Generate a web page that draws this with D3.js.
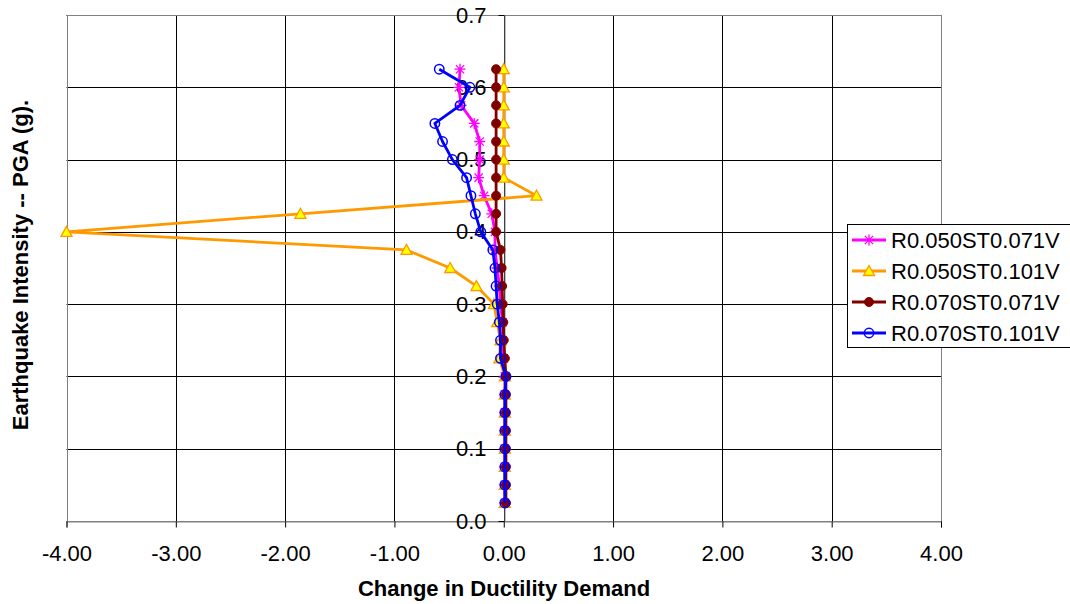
<!DOCTYPE html>
<html><head><meta charset="utf-8">
<script src="https://cdn.jsdelivr.net/npm/d3@7"></script>
<style>body{margin:0;background:#fff;} svg{display:block;}</style>
</head><body>
<svg id="chart" width="1070" height="604"></svg>
<script>
const pga = [0.025,0.05,0.075,0.1,0.125,0.15,0.175,0.2,0.225,0.25,0.275,0.3,0.325,0.35,0.375,0.4,0.425,0.45,0.475,0.5,0.525,0.55,0.575,0.6,0.625];
const magenta050_071 = [0.01,0.01,0.01,0.01,0.01,0.01,0.01,0.01,0.0,-0.01,-0.01,-0.03,-0.04,-0.06,-0.08,-0.08,-0.11,-0.18,-0.23,-0.22,-0.22,-0.27,-0.39,-0.41,-0.40];
const orange050_101 = [0.01,0.01,0.01,0.01,0.01,0.01,0.01,0.01,-0.04,-0.03,-0.06,-0.09,-0.25,-0.49,-0.89,-4.0,-1.86,0.30,0.0,0.0,0.0,0.0,0.0,0.0,0.0];
const maroon070_071 = [0.02,0.02,0.02,0.02,0.02,0.02,0.02,0.02,0.01,0.0,-0.005,-0.01,-0.015,-0.02,-0.03,-0.07,-0.07,-0.07,-0.07,-0.07,-0.07,-0.07,-0.07,-0.07,-0.07];
const blue070_101 = [0.01,0.01,0.01,0.01,0.01,0.01,0.01,0.02,-0.03,-0.03,-0.04,-0.06,-0.07,-0.08,-0.10,-0.21,-0.26,-0.30,-0.34,-0.47,-0.56,-0.63,-0.40,-0.31,-0.59];
const seriesNames = ["R0.050ST0.071V","R0.050ST0.101V","R0.070ST0.071V","R0.070ST0.101V"];
const xTicks = [-4,-3,-2,-1,0,1,2,3,4];
const yTicks = [0,0.1,0.2,0.3,0.4,0.5,0.6,0.7];

const series = [
  {name: seriesNames[0], vals: magenta050_071, color: "#FF00FF", marker: "star"},
  {name: seriesNames[1], vals: orange050_101, color: "#FF9900", marker: "tri"},
  {name: seriesNames[2], vals: maroon070_071, color: "#800000", marker: "dot"},
  {name: seriesNames[3], vals: blue070_101, color: "#0000FF", marker: "ring"}
];

const svg = d3.select("#chart");
const L = 66.5, R = 941, T = 15, B = 521;
const x = d3.scaleLinear().domain([-4,4]).range([L,R]);
const y = d3.scaleLinear().domain([0,0.7]).range([B,T]);
const font = "Arial, 'Liberation Sans', sans-serif";

// grid
const g = svg.append("g");
g.selectAll(".vg").data(xTicks).enter().append("line")
  .attr("x1", d=>Math.round(x(d))+0.5).attr("x2", d=>Math.round(x(d))+0.5)
  .attr("y1", T).attr("y2", B).attr("stroke","#000").attr("stroke-width",1);
g.selectAll(".hg").data(yTicks).enter().append("line")
  .attr("x1", L).attr("x2", R)
  .attr("y1", d=>Math.round(y(d))+0.5).attr("y2", d=>Math.round(y(d))+0.5)
  .attr("stroke","#000").attr("stroke-width",1);
// border
g.append("rect").attr("x",Math.round(L)+0.5).attr("y",T+0.5).attr("width",Math.round(R)-Math.round(L)).attr("height",B-T)
  .attr("fill","none").attr("stroke","#808080").attr("stroke-width",1);

// axes
const xAxis = svg.append("g").attr("transform",`translate(0,${Math.round(y(0))+0.5})`)
  .call(d3.axisBottom(x).tickValues(xTicks).tickFormat(d=>d.toFixed(2)).tickSize(6).tickPadding(18));
const yAxis = svg.append("g").attr("transform",`translate(${Math.round(x(0))+0.5},0)`)
  .call(d3.axisLeft(y).tickValues(yTicks).tickFormat(d=>d.toFixed(1)).tickSize(6).tickPadding(12));
[xAxis,yAxis].forEach(a=>{
  a.select(".domain").attr("stroke","#808080");
  a.selectAll(".tick line").attr("stroke","#000");
  a.selectAll("text").attr("font-family",font).attr("font-size",22).attr("fill","#000");
});

// lines
const line = d3.line().x(d=>x(d[0])).y(d=>y(d[1]));
function drawMarker(sel, m, color){
  if(m==="star"){
    const s=5.5;
    sel.append("path").attr("d",`M${-s},0H${s}M0,${-s}V${s}M${-s*0.75},${-s*0.75}L${s*0.75},${s*0.75}M${-s*0.75},${s*0.75}L${s*0.75},${-s*0.75}`)
      .attr("stroke",color).attr("stroke-width",1.3).attr("fill","none");
  } else if(m==="tri"){
    sel.append("path").attr("d","M0,-5.5L5.5,4.5L-5.5,4.5Z").attr("fill","#FFFF00").attr("stroke",color).attr("stroke-width",1.3);
  } else if(m==="dot"){
    sel.append("circle").attr("r",4.5).attr("fill",color).attr("stroke",color).attr("stroke-width",1);
  } else {
    sel.append("circle").attr("r",4.7).attr("fill","none").attr("stroke",color).attr("stroke-width",1.5);
  }
}
series.forEach(s=>{
  const pts = s.vals.map((v,i)=>[v,pga[i]]);
  const sg = svg.append("g");
  sg.append("path").datum(pts).attr("d",line).attr("fill","none").attr("stroke",s.color).attr("stroke-width",2.8).attr("stroke-linejoin","round");
  pts.forEach(p=>{
    const mg = sg.append("g").attr("transform",`translate(${x(p[0])},${y(p[1])})`);
    drawMarker(mg, s.marker, s.color);
  });
});

// legend
const lg = svg.append("g");
lg.append("rect").attr("x",847.5).attr("y",224.5).attr("width",240).attr("height",123)
  .attr("fill","#fff").attr("stroke","#000").attr("stroke-width",1);
series.forEach((s,i)=>{
  const cy = 240 + i*31;
  lg.append("line").attr("x1",852).attr("x2",886).attr("y1",cy).attr("y2",cy).attr("stroke",s.color).attr("stroke-width",2.8);
  drawMarker(lg.append("g").attr("transform",`translate(869,${cy})`), s.marker, s.color);
  lg.append("text").attr("x",891).attr("y",cy+8).text(s.name)
    .attr("font-family",font).attr("font-size",22).attr("fill","#000");
});

// titles
svg.append("text").attr("x",504).attr("y",596).attr("text-anchor","middle")
  .attr("font-family",font).attr("font-size",22).attr("font-weight","bold").text("Change in Ductility Demand");
svg.append("text").attr("transform","translate(28,265) rotate(-90)").attr("text-anchor","middle")
  .attr("font-family",font).attr("font-size",22).attr("font-weight","bold").text("Earthquake Intensity -- PGA (g).");
</script>
</body></html>
